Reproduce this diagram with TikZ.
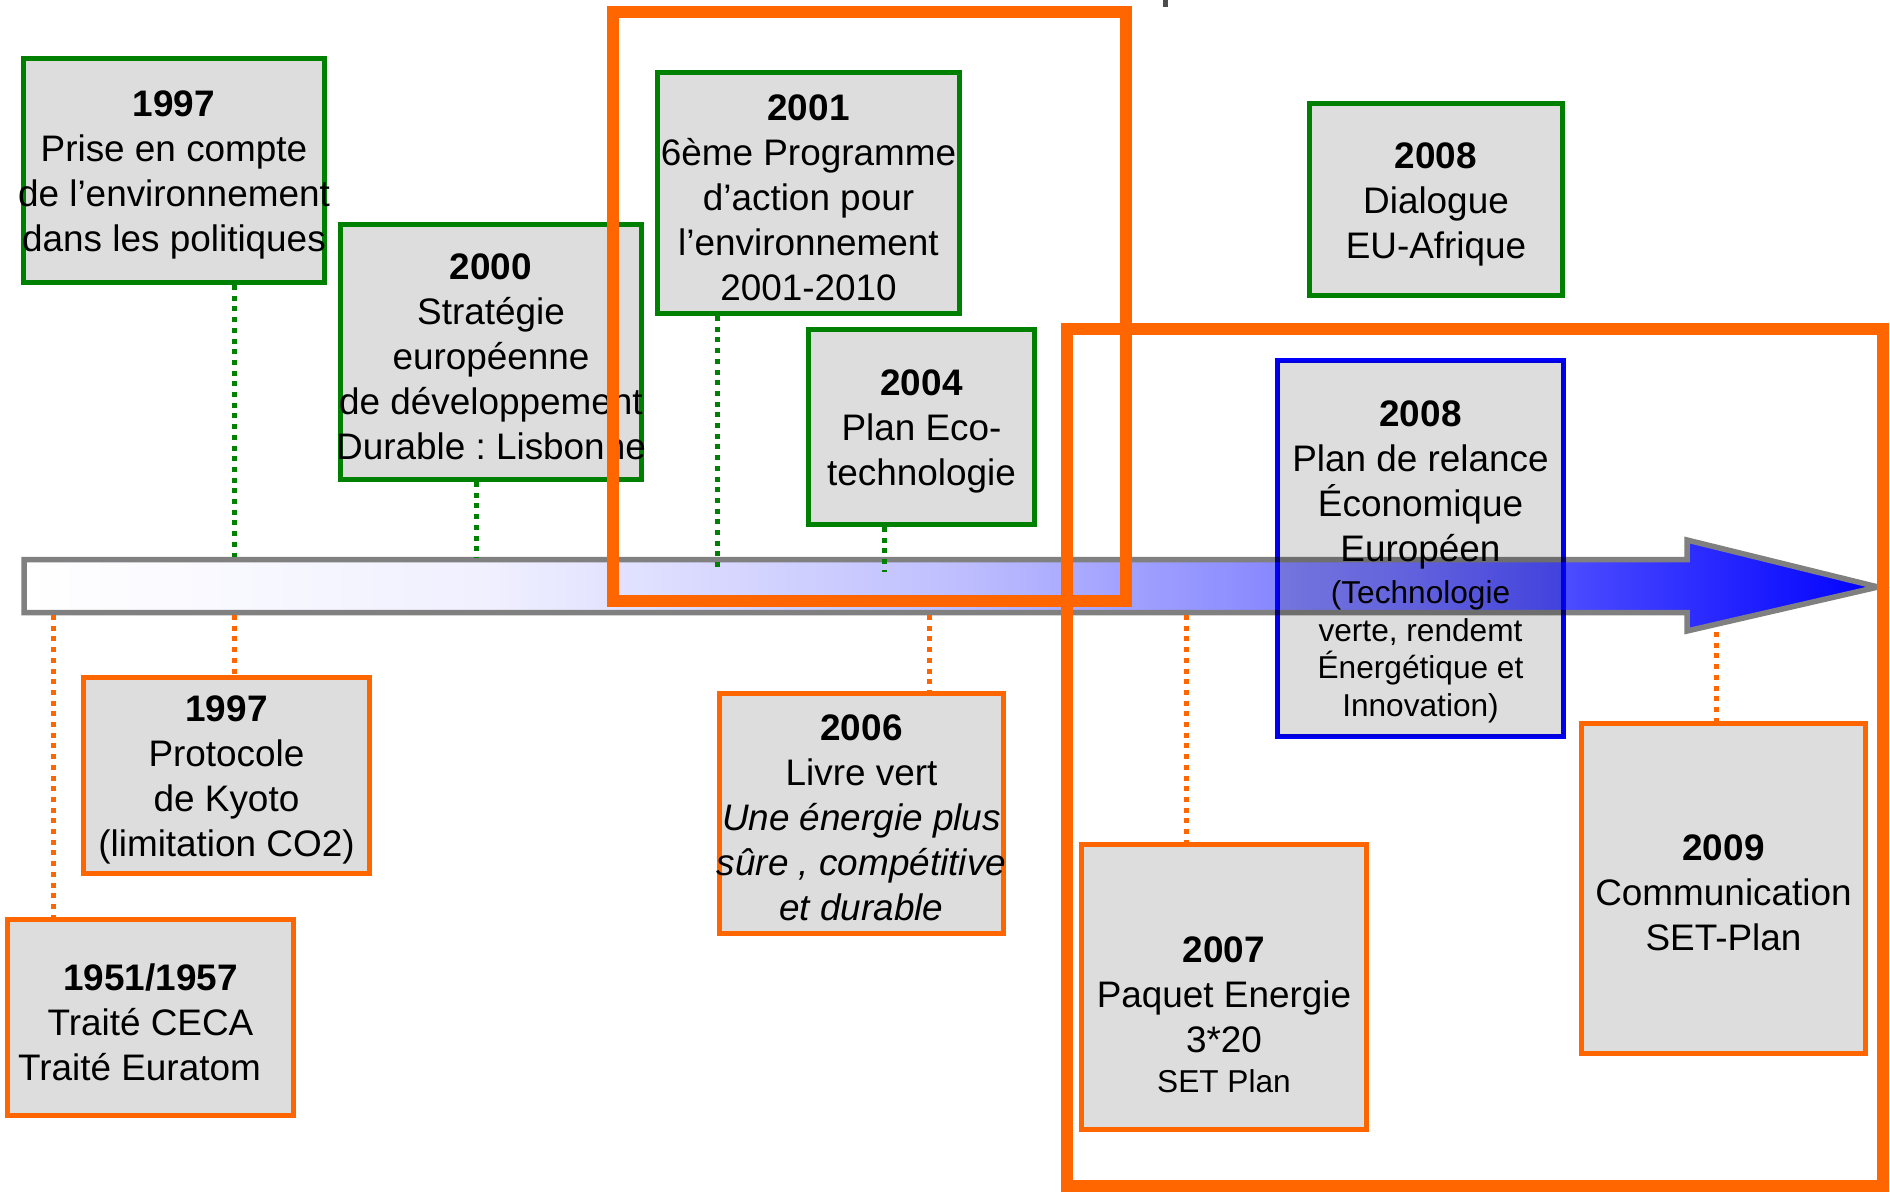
\documentclass[tikz,border=0pt]{standalone}
\usepackage{fontspec}
\setmainfont{Liberation Sans}
\frenchspacing

\definecolor{tlgreen}{RGB}{0,128,0}
\definecolor{tlorange}{RGB}{255,102,0}
\definecolor{tlblue}{RGB}{0,0,255}
\definecolor{boxgray}{RGB}{221,221,221}
\definecolor{axisgray}{RGB}{128,128,128}

\pgfdeclarehorizontalshading{timeline}{100bp}{color(0bp)=(white); color(25bp)=(white);
  color(37.5bp)=(tlblue!6); color(50bp)=(tlblue!25); color(62.5bp)=(tlblue!56);
  color(75bp)=(tlblue); color(100bp)=(tlblue)}

\newcommand{\smalltxt}{\fontsize{9}{10.8}\selectfont}

\tikzset{
    evbox/.style={fill=boxgray, line width=0.05cm, inner sep=0pt},
    greenbox/.style={evbox, draw=tlgreen},
    orangebox/.style={evbox, draw=tlorange},
    bluebox/.style={evbox, draw=tlblue, blend mode=multiply},
    evtext/.style={align=center, inner sep=0pt, yshift=-0.045cm, font=\fontsize{10.5}{12.8}\selectfont},
    gdot/.style={draw=tlgreen, line width=0.05cm, dash pattern=on 0.05cm off 0.057cm},
    odot/.style={draw=tlorange, line width=0.05cm, dash pattern=on 0.05cm off 0.057cm},
    hilite/.style={draw=tlorange, line width=0.12cm},
}

\begin{document}
\begin{tikzpicture}[y=-1cm]
    \useasboundingbox (0,0) rectangle (18.9,11.92);

    \draw[shading=timeline, draw=axisgray, line width=0.055cm]
        (0.24,5.595) -- (16.87,5.595) -- (16.87,5.40) -- (18.78,5.87)
        -- (16.87,6.31) -- (16.87,6.125) -- (0.24,6.125) -- cycle;
    \coordinate (axtop) at (0,5.57);
    \coordinate (axmid) at (0,5.72);
    \coordinate (axbot) at (0,6.15);
    \coordinate (axhead) at (0,6.32);

    \node[greenbox, minimum width=3.01cm, minimum height=2.24cm] (g1997) at (1.74,1.705) {};
    \node[greenbox, minimum width=3.01cm, minimum height=2.55cm] (g2000) at (4.91,3.52) {};
    \node[greenbox, minimum width=3.02cm, minimum height=2.41cm] (g2001) at (8.085,1.93) {};
    \node[greenbox, minimum width=2.26cm, minimum height=1.95cm] (g2004) at (9.215,4.27) {};
    \node[greenbox, minimum width=2.53cm, minimum height=1.92cm] (g2008) at (14.36,1.995) {};

    \node[orangebox, minimum width=2.86cm, minimum height=1.96cm] (o1997) at (2.265,7.755) {};
    \node[orangebox, minimum width=2.86cm, minimum height=1.96cm] (o1951) at (1.505,10.175) {};
    \node[orangebox, minimum width=2.84cm, minimum height=2.40cm] (o2006) at (8.615,8.135) {};
    \node[orangebox, minimum width=2.85cm, minimum height=2.85cm] (o2007) at (12.24,9.87) {};
    \node[orangebox, minimum width=2.84cm, minimum height=3.30cm] (o2009) at (17.235,8.885) {};

    \node[bluebox, minimum width=2.86cm, minimum height=3.76cm] (b2008) at (14.205,5.485) {};

    \draw[gdot] ([xshift=0.6cm]g1997.south) -- ([xshift=0.6cm]g1997.south |- axtop);
    \draw[gdot] ([xshift=-0.15cm]g2000.south) -- ([xshift=-0.15cm]g2000.south |- axtop);
    \draw[gdot] ([xshift=-0.915cm]g2001.south) -- ([xshift=-0.915cm]g2001.south |- axmid);
    \draw[gdot] ([xshift=-0.375cm]g2004.south) -- ([xshift=-0.375cm]g2004.south |- axmid);

    \draw[odot] ([xshift=-0.975cm]o1951.north |- axbot) -- ([xshift=-0.975cm]o1951.north);
    \draw[odot] ([xshift=0.075cm]o1997.north |- axbot) -- ([xshift=0.075cm]o1997.north);
    \draw[odot] ([xshift=0.675cm]o2006.north |- axbot) -- ([xshift=0.675cm]o2006.north);
    \draw[odot] ([xshift=-0.38cm]o2007.north |- axbot) -- ([xshift=-0.38cm]o2007.north);
    \draw[odot] ([xshift=-0.075cm]o2009.north |- axhead) -- ([xshift=-0.075cm]o2009.north);

    \node[evtext] (t1997) at (g1997) {\textbf{1997}\\Prise en compte\\de l’environnement\\dans les politiques};
    \node[evtext] (t2000) at (g2000) {\textbf{2000}\\Stratégie\\européenne\\de développement\\Durable : Lisbonne};
    \node[evtext] (t2001) at (g2001) {\textbf{2001}\\6ème Programme\\d’action pour\\l’environnement\\2001-2010};
    \node[evtext] (t2004) at (g2004) {\textbf{2004}\\Plan Eco-\\technologie};
    \node[evtext] (t2008) at (g2008) {\textbf{2008}\\Dialogue\\EU-Afrique};
    \node[evtext] (tplan) at ([yshift=-0.09cm]b2008.center) {\textbf{2008}\\Plan de relance\\Économique\\Européen\\[-0.9pt]
        {\smalltxt (Technologie}\\[-2pt]{\smalltxt verte, rendemt}\\[-2pt]{\smalltxt Énergétique et}\\[-2pt]{\smalltxt Innovation)}};
    \node[evtext] (tkyoto) at (o1997) {\textbf{1997}\\Protocole\\de Kyoto\\(limitation CO2)};
    \node[evtext] (tceca) at (o1951) {\textbf{1951/1957}\\Traité CECA\\Traité Euratom\hspace*{0.22cm}};
    \node[evtext] (t2006) at (o2006) {\textbf{2006}\\Livre vert\\\textit{Une énergie plus}\\\textit{sûre , compétitive}\\\textit{et durable}};
    \node[evtext] (t2007) at ([yshift=-0.23cm]o2007.center) {\textbf{2007}\\Paquet Energie\\3*20\\[-1.3pt]{\smalltxt SET Plan}};
    \node[evtext] (t2009) at (o2009) {\textbf{2009}\\Communication\\SET-Plan};

    \draw[hilite] (6.13,0.115) rectangle (11.26,6.01);
    \draw[hilite] (10.665,3.29) rectangle (18.83,11.86);

    \draw[axisgray!60!black, line width=0.05cm] (11.655,0) -- (11.655,0.065);
\end{tikzpicture}
\end{document}
